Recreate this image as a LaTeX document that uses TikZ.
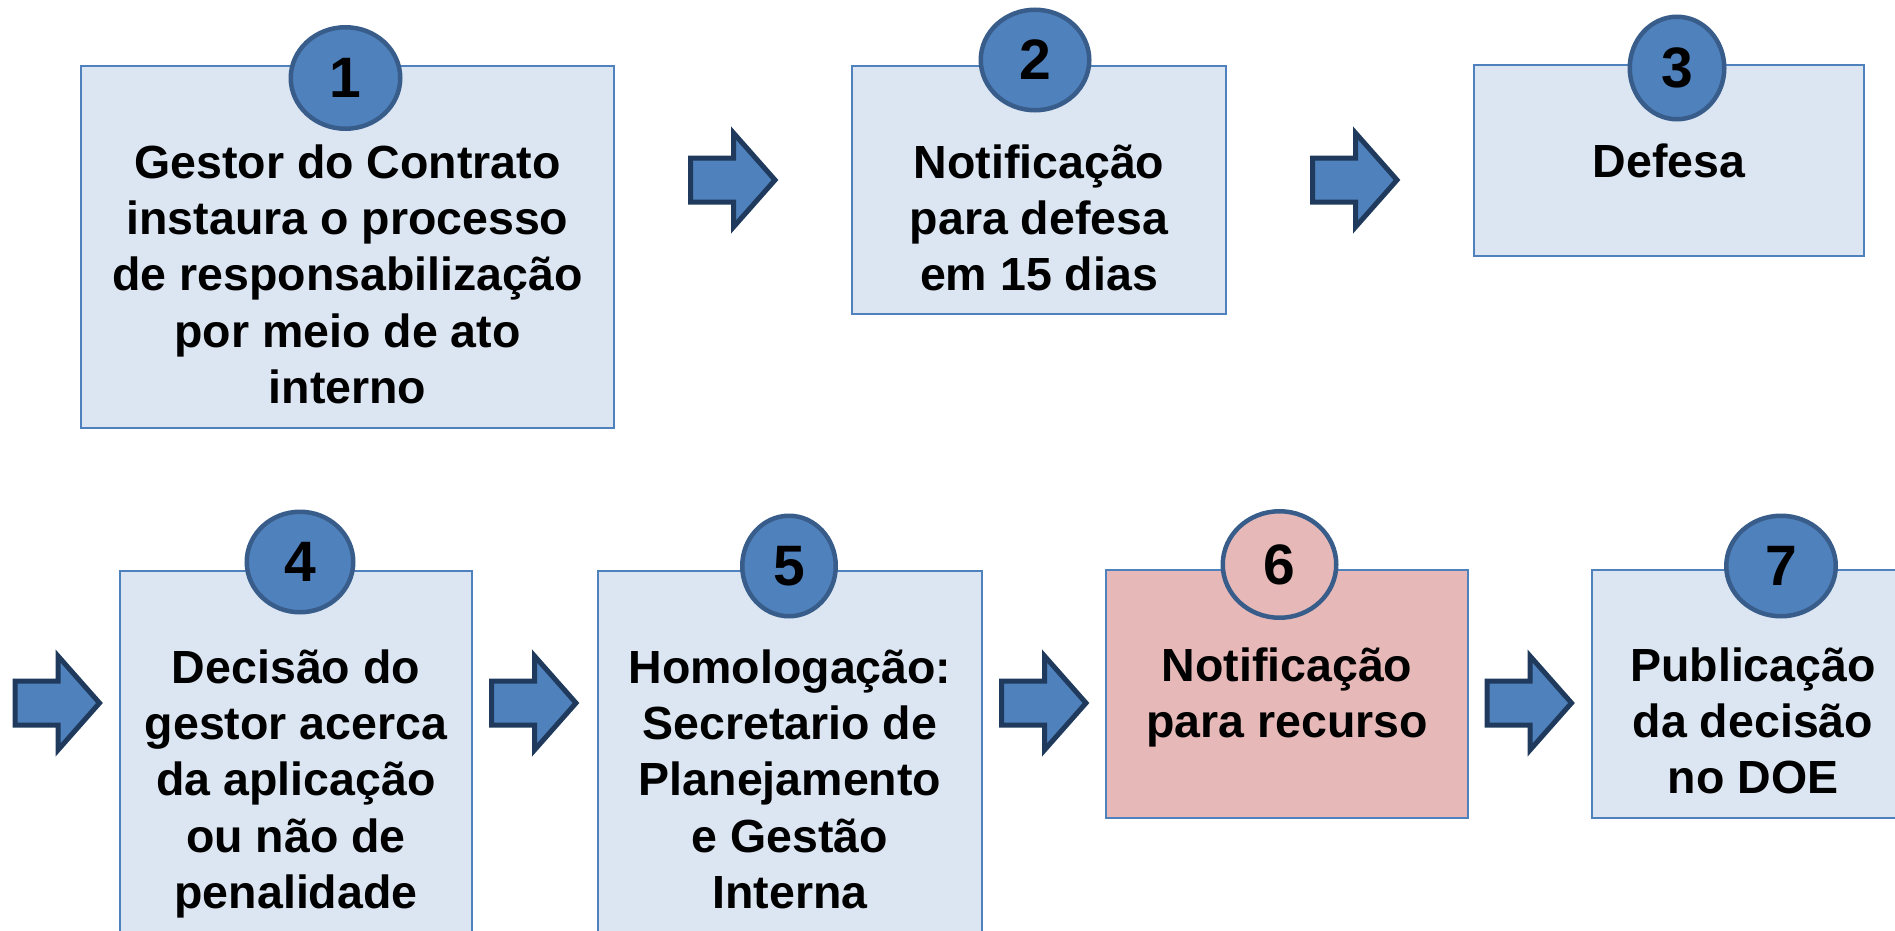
\documentclass[tikz,border=0pt]{standalone}
\usepackage{fontspec}
\setmainfont{Liberation Sans}
\usetikzlibrary{shapes.geometric}
\definecolor{azulclaro}{HTML}{DCE6F2}
\definecolor{azul}{HTML}{4F81BD}
\definecolor{azulborda}{HTML}{385D8A}
\definecolor{azulescuro}{HTML}{1F3A5C}
\definecolor{rosa}{HTML}{E6B9B8}
\tikzset{
  caixa/.style={draw=azul, fill=azulclaro, line width=2pt, inner sep=0pt},
  texto/.style={align=center, inner sep=0pt, font=\fontsize{46.5}{56.4}\selectfont\bfseries},
  numero/.style={ellipse, draw=azulborda, fill=azul, line width=4.5pt, inner sep=0pt,
    font=\fontsize{57}{60}\selectfont\bfseries},
  setaforma/.style={draw=azulescuro, fill=azul, line width=5pt},
  seta/.pic={\draw[setaforma] (-43,-22) -- (0,-22) -- (0,-47) -- (41.5,0) -- (0,47) -- (0,22) -- (-43,22) -- cycle;}
}

\begin{document}
\begin{tikzpicture}[x=1pt, y=-1pt]
    \useasboundingbox (0,0) rectangle (1895,931);
    \clip (0,0) rectangle (1895,931);
    % caixas
    \node (b1) at (80,65) [caixa, anchor = north west, minimum width=533, minimum height=362] {};
    \node (b2) at (851,65) [caixa, anchor = north west, minimum width=374, minimum height=248] {};
    \node (b3) at (1473,64) [caixa, anchor = north west, minimum width=390, minimum height=191] {};
    \node (b4) at (119,570) [caixa, anchor = north west, minimum width=352, minimum height=420] {};
    \node (b5) at (597,570) [caixa, anchor = north west, minimum width=384, minimum height=420] {};
    \node (b6) at (1105,569) [caixa, fill=rosa, anchor = north west, minimum width=362, minimum height=248] {};
    \node (b7) at (1591,569) [caixa, anchor = north west, minimum width=322, minimum height=248] {};
    % textos (base = ultima linha)
    \node (t1) at ([yshift=-338.6pt]b1.north) [texto, anchor = base] {Gestor do Contrato\\instaura o processo\\de responsabilização\\por meio de ato\\interno};
    \node (t2) at ([yshift=-225.8pt]b2.north) [texto, anchor = base] {Notificação\\para defesa\\em 15 dias};
    \node (t3) at ([yshift=-113pt]b3.north) [texto, anchor = base] {Defesa};
    \node (t4) at ([yshift=-338.6pt]b4.north) [texto, anchor = base] {Decisão do\\gestor acerca\\da aplicação\\ou não de\\penalidade};
    \node (t5) at ([yshift=-338.6pt]b5.north) [texto, anchor = base] {Homologação:\\Secretario de\\Planejamento\\e Gestão\\Interna};
    \node (t6) at ([yshift=-168.4pt]b6.north) [texto, anchor = base] {Notificação\\para recurso};
    \node (t7) at ([yshift=-224.8pt]b7.north) [texto, anchor = base] {Publicação\\da decisão\\no DOE};
    % numeros
    \node (n1) at (345.5,78) [numero, minimum width=109.5, minimum height=101.5] {1};
    \node (n2) at (1035,60) [numero, minimum width=108.5, minimum height=100.5] {2};
    \node (n3) at (1677,68) [numero, minimum width=94.5, minimum height=102.5] {3};
    \node (n4) at (300,562) [numero, minimum width=106.5, minimum height=100.5] {4};
    \node (n5) at (789,566) [numero, minimum width=93.5, minimum height=100.5] {5};
    \node (n6) at (1279.5,564.5) [numero, fill=rosa, minimum width=113.5, minimum height=106.5] {6};
    \node (n7) at (1781,566) [numero, minimum width=109.5, minimum height=100.5] {7};
    % setas
    \pic at (733.5,180) {seta};
    \pic at (1355.5,180) {seta};
    \pic at (58,703) {seta};
    \pic at (534.5,703) {seta};
    \pic at (1044.5,703) {seta};
    \pic at (1530,703) {seta};
\end{tikzpicture}
\end{document}
